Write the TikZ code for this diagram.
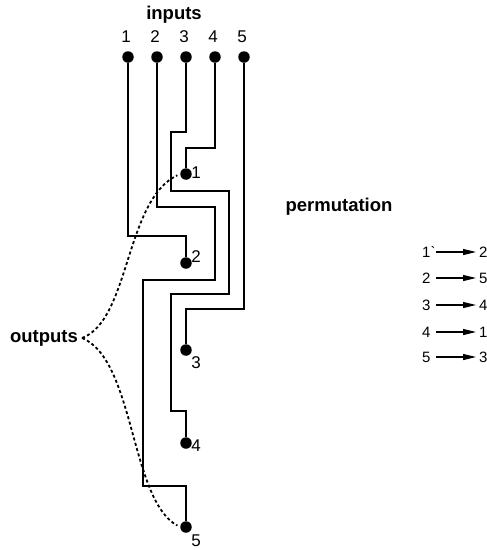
\documentclass[tikz,border=0pt]{standalone}
\usepackage{fontspec}
\setmainfont{Liberation Sans}
\usetikzlibrary{positioning, arrows.meta, calc}

\begin{document}
\begin{tikzpicture}[
        x=1pt, y=-1pt,
        dot/.style={circle, fill=black, inner sep=0pt, minimum size=11.5pt},
        lbl/.style={inner sep=0pt, font=\fontsize{17}{19}\selectfont},
        head/.style={inner sep=0pt, font=\fontsize{18.5}{22}\selectfont\bfseries},
        wire/.style={line width=1.8pt},
        guide/.style={line width=1.8pt, dash pattern=on 3pt off 2.5pt},
        perm/.style={inner sep=1pt, font=\fontsize{15}{17}\selectfont},
        parr/.style={-{Triangle[length=13pt, width=6pt]}, line width=1.2pt},
    ]
    \useasboundingbox (0,0) rectangle (487,550);

    % Titles
    \node[head] (inputs) at (174,15) {inputs};
    \node[head] (permutation) at (339,207) {permutation};
    \node[head, inner sep=4pt] (outputs) at (44,338) {outputs};

    % Input dots
    \foreach \i/\x in {1/128, 2/157, 3/186, 4/215, 5/244} {
        \node[dot] (in\i) at (\x,57) {};
        \node[lbl, above=8pt of in\i, xshift=-2pt] (inl\i) {\i};
    }

    % Output dots
    \foreach \i/\y/\ly in {1/174/173, 2/263/257, 3/350/363, 4/443/446, 5/527/541} {
        \node[dot] (out\i) at (186,\y) {};
        \node[lbl] (outl\i) at (196,\ly) {\i};
    }

    % Wires
    \draw[wire] (in1.south) |- (186,236) -- (out2.north);
    \draw[wire] (in2.south) |- (215,207) |- (143,280) |- (186,486) -- (out5.north);
    \draw[wire] (in3.south) |- (171,132) |- (229,191) |- (171,294) |- (186,411) -- (out4.north);
    \draw[wire] (in4.south) |- (186,148) -- (out1.north);
    \draw[wire] (in5.south) |- (186,309) -- (out3.north);

    % Output guides
    \draw[guide, shorten >=3pt] (outputs.east) .. controls (130,320) and (125,200) .. (out1.west);
    \draw[guide, shorten >=3pt] (outputs.east) .. controls (135,360) and (130,500) .. (out5.west);

    % Permutation list
    \foreach \k/\i/\j/\y in {1/1\textasciigrave/2/252, 2/2/5/278, 3/3/4/305, 4/4/1/332, 5/5/3/357} {
        \node[perm, anchor=west, text width=13pt, align=left] (pl\k) at (421,\y) {\i};
        \node[perm, anchor=west] (pr\k) at (478,\y) {\j};
        \draw[parr, shorten >=2pt] (pl\k.east) -- (pr\k.west);
    }
\end{tikzpicture}
\end{document}
